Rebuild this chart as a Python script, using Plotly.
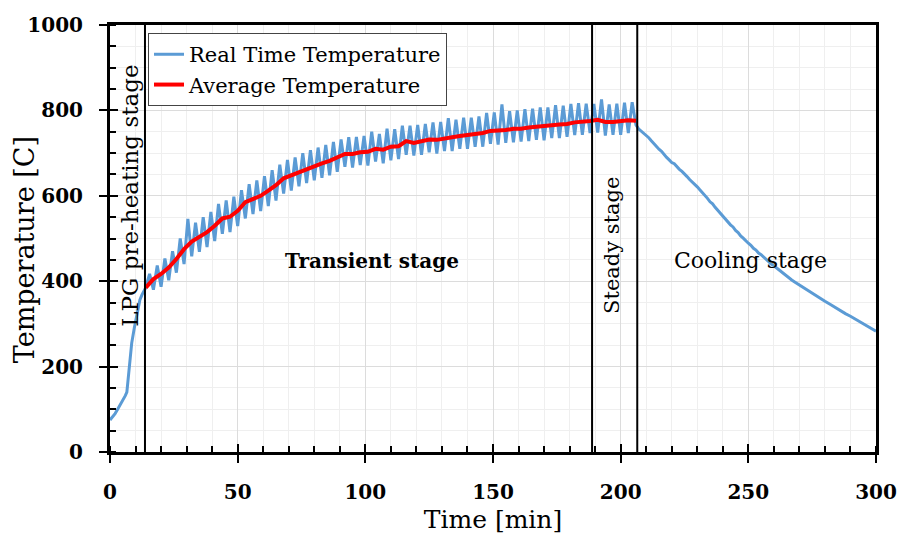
import plotly.graph_objects as go

# Real-time temperature [C] vs time [min]
rt_time = [0, 1, 2, 3, 4, 5, 6, 6.6, 7.5, 8.5, 9.5, 10.5, 11.7, 12.5, 13.3,
           14.0, 15.5, 17.0, 18.5, 20.0, 21.5, 23.0, 24.5, 26.0, 27.5, 29.0, 30.5, 32.0, 33.5, 35.0, 36.5,
           38.0, 39.5, 41.0, 42.5, 44.0, 45.5, 47.0, 48.5, 50.0, 51.5, 53.0, 54.5, 56.0, 57.5, 59.0, 60.5,
           62.0, 63.5, 65.0, 66.5, 68.0, 69.5, 71.0, 72.5, 74.0, 75.5, 77.0, 78.5, 80.0, 81.5, 83.0, 84.5,
           86.0, 87.5, 89.0, 90.5, 92.0, 93.5, 95.0, 96.5, 98.0, 99.5, 101.0, 102.5, 104.0, 105.5, 107.0, 108.5,
           110.0, 111.5, 113.0, 114.5, 116.0, 117.5, 119.0, 120.5, 122.0, 123.5, 125.0, 126.5, 128.0, 129.5,
           131.0, 132.5, 134.0, 135.5, 137.0, 138.5, 140.0, 141.5, 143.0, 144.5, 146.0, 147.5, 149.0, 150.5,
           152.0, 153.5, 155.0, 156.5, 158.0, 159.5, 161.0, 162.5, 164.0, 165.5, 167.0, 168.5, 170.0, 171.5,
           173.0, 174.5, 176.0, 177.5, 179.0, 180.5, 182.0, 183.5, 185.0, 186.5, 188.0, 189.5, 191.0, 192.5,
           194.0, 195.5, 197.0, 198.5, 200.0, 201.5, 203.0, 204.5, 206.0,
           207, 208, 209, 210, 211, 212, 213, 214, 215, 216, 217, 218, 219, 220, 221, 222, 223, 224, 225,
           226, 227, 228, 229, 230, 231, 232, 233, 234, 235, 236, 237, 238, 239, 240, 241, 242, 243, 244,
           245, 246, 247, 248, 249, 250, 251, 252, 253, 254, 255, 256, 257, 258, 259, 260, 261, 262, 263,
           264, 265, 266, 267, 268, 270, 272, 274, 276, 278, 280, 282, 284, 285, 286, 288, 290, 292, 294,
           296, 298, 299, 300]
rt_temp = [75, 82, 90, 100, 110, 120, 132, 140, 195, 255, 290, 320, 356, 368, 378,
           385, 417, 380, 437, 387, 453, 402, 470, 420, 500, 440, 546, 458, 537, 469, 550,
           480, 562, 494, 581, 511, 589, 515, 598, 529, 613, 547, 627, 557, 636, 564, 646,
           576, 660, 589, 673, 605, 684, 612, 690, 622, 700, 630, 707, 636, 713, 642, 719,
           648, 726, 656, 732, 668, 737, 666, 738, 672, 740, 671, 750, 680, 745, 676, 757,
           683, 756, 686, 764, 696, 764, 694, 766, 696, 768, 702, 772, 699, 773,
           705, 782, 705, 778, 710, 783, 710, 783, 715, 786, 715, 794, 722, 795,
           720, 814, 724, 798, 725, 800, 727, 803, 728, 804, 731, 807, 730, 807,
           735, 812, 735, 811, 738, 815, 742, 817, 743, 816, 747, 815, 748, 826,
           741, 814, 743, 816, 743, 818, 747, 819, 766,
           757, 752, 746, 741, 736, 729, 722, 716, 709, 704, 696, 690, 684, 678, 675, 668, 662, 657, 652,
           645, 638, 633, 628, 621, 614, 608, 600, 594, 586, 581, 573, 566, 560, 553, 546, 540, 532, 527,
           519, 514, 506, 501, 494, 489, 484, 477, 473, 466, 462, 456, 451, 446, 440, 436, 431, 427, 422,
           417, 412, 407, 403, 399, 391, 384, 376, 368, 361, 353, 346, 338, 334, 330, 324, 318, 311, 305,
           298, 291, 287, 283]

# Average temperature [C]
avg_time = [14, 17, 20, 23, 26, 29, 32, 35, 38, 41, 44, 47, 50, 53, 56, 59, 62, 65, 68, 71, 74, 77, 80,
            83, 86, 89, 92, 95, 98, 101, 104, 107, 110, 113, 116, 119, 122, 125, 128, 131, 134, 137, 140,
            143, 146, 149, 152, 155, 158, 161, 164, 167, 170, 173, 176, 179, 182, 185, 188, 191, 194, 197,
            200, 203, 206]
avg_temp = [385, 405, 417, 432, 452, 475, 493, 505, 515, 530, 547, 551, 565, 585, 593, 600, 612, 625, 641,
            648, 656, 664, 670, 676, 682, 690, 698, 698, 702, 703, 710, 708, 715, 716, 728, 724, 728, 732,
            731, 735, 737, 740, 742, 745, 747, 752, 752, 754, 757, 757, 760, 761, 762, 765, 767, 768, 772,
            773, 775, 778, 773, 773, 775, 777, 776]

# Stage boundaries [min]
stage_bounds = [13.7, 188.8, 206.5]

# Stage labels
stage_labels = ["LPG pre-heating stage", "Transient stage", "Steady stage", "Cooling stage"]

FONT = "DejaVu Serif"

fig = go.Figure()
fig.add_trace(go.Scatter(x=rt_time, y=rt_temp, mode="lines", name="Real Time Temperature",
                         line=dict(color="#5B9BD5", width=3)))
fig.add_trace(go.Scatter(x=avg_time, y=avg_temp, mode="lines", name="Average Temperature",
                         line=dict(color="#FF0000", width=4)))
# empty trace to carry the second (tick-only) axes
fig.add_trace(go.Scatter(x=[], y=[], xaxis="x2", yaxis="y2", showlegend=False, hoverinfo="skip"))

for b in stage_bounds:
    fig.add_shape(type="line", x0=b, x1=b, y0=0, y1=1, xref="x", yref="paper",
                  line=dict(color="black", width=2))

fig.add_annotation(x=7.8, y=600, text=stage_labels[0], textangle=-90, showarrow=False,
                   font=dict(family=FONT, size=23, color="black"))
fig.add_annotation(x=102.6, y=447, text=stage_labels[1], showarrow=False,
                   font=dict(family=FONT, size=20, color="black", weight="bold"))
fig.add_annotation(x=196.6, y=485, text=stage_labels[2], textangle=-90, showarrow=False,
                   font=dict(family=FONT, size=21, color="black"))
fig.add_annotation(x=250.7, y=448, text=stage_labels[3], showarrow=False,
                   font=dict(family=FONT, size=22, color="black"))
# y-axis title
fig.add_annotation(x=-0.112, y=0.473, xref="paper", yref="paper", text="Temperature [C]",
                   textangle=-90, showarrow=False, xanchor="center", yanchor="middle",
                   font=dict(family=FONT, size=27, color="black"))

axis_common = dict(
    showline=True, linecolor="black", linewidth=3, mirror=True, automargin=False,
    ticks="outside", tickcolor="black", tickwidth=2, ticklen=8, ticklabelstandoff=12,
    showgrid=True, gridcolor="#dcdcdc", gridwidth=1, zeroline=False,
    tickfont=dict(family=FONT, size=20, color="black", weight="bold"),
)

fig.update_xaxes(range=[0, 300], dtick=50, tick0=0,
                 minor=dict(dtick=10, ticks="inside", ticklen=6, tickcolor="black", tickwidth=2,
                            showgrid=True, gridcolor="#efefef"),
                 title=dict(text="Time [min]", font=dict(family=FONT, size=25, color="black"),
                            standoff=8),
                 **axis_common)
fig.update_yaxes(range=[0, 1000], dtick=200, tick0=0,
                 minor=dict(dtick=50, ticks="inside", ticklen=6, tickcolor="black", tickwidth=2,
                            showgrid=True, gridcolor="#efefef"),
                 **axis_common)

fig.update_layout(
    width=899, height=538,
    margin=dict(l=110, r=23, t=25, b=86, autoexpand=False),
    paper_bgcolor="white", plot_bgcolor="white",
    xaxis2=dict(overlaying="x", range=[0, 300], dtick=50, tick0=0, side="bottom", automargin=False,
                ticks="inside", ticklen=8, tickwidth=2, tickcolor="black",
                showticklabels=False, showgrid=False, showline=False, zeroline=False),
    yaxis2=dict(overlaying="y", range=[0, 1000], dtick=200, tick0=0, side="left", automargin=False,
                ticks="inside", ticklen=8, tickwidth=2, tickcolor="black",
                showticklabels=False, showgrid=False, showline=False, zeroline=False),
    legend=dict(x=0.0496, y=0.981, xanchor="left", yanchor="top",
                bgcolor="white", bordercolor="#444444", borderwidth=1,
                font=dict(family=FONT, size=21, color="black"), tracegroupgap=0),
    showlegend=True,
)

fig.write_html("out.html", config={"displayModeBar": False},
               post_script="document.body.style.margin='0';")
